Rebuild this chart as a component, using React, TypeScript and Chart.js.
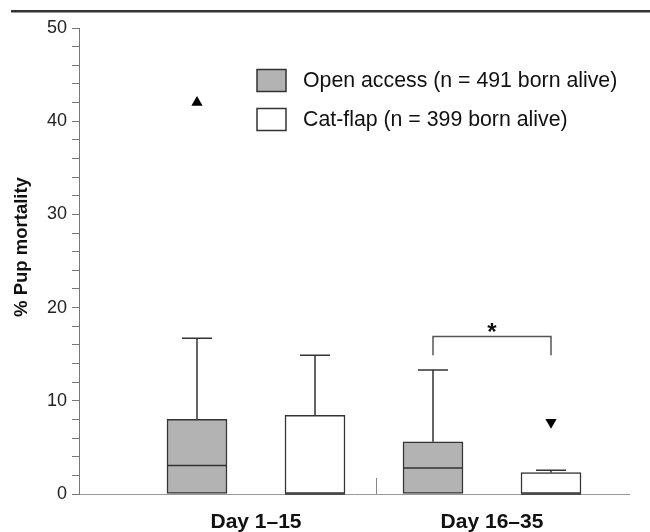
import React, { useEffect, useRef } from "react";
import { Chart, registerables } from "chart.js";

Chart.register(...registerables);

// ---------------- data ----------------
const categories = ["Day 1–15", "Day 16–35"];
const seriesNames = ["Open access (n = 491 born alive)", "Cat-flap (n = 399 born alive)"];

const openMin = [0, 0];
const openQ1 = [0, 0];
const openMedian = [3.05, 2.8];
const openQ3 = [8.0, 5.6];
const openMax = [16.7, 13.3];
const openOutliers = [42.0, null];

const catMin = [0, 0];
const catQ1 = [0, 0];
const catMedian = [0, 0];
const catQ3 = [8.45, 2.3];
const catMax = [14.9, 2.55];
const catOutliers = [null, 7.7];

const yTickLabels = [0, 10, 20, 30, 40, 50];
const yTitle = "% Pup mortality";

const sigCategory = 1; // index into categories
const sigLevel = 16.9;
const sigLegBottom = 14.9;
const sigLabel = "*";

// ---------------- styles ----------------
const FONT = "'Liberation Sans', Arial, Helvetica, sans-serif";
const INK = "#333333";
const GREY = "#b3b3b3";

const series = [
  { name: seriesNames[0], min: openMin, q1: openQ1, median: openMedian, q3: openQ3, max: openMax, outliers: openOutliers, fill: GREY, offset: -0.25, rotation: 0 },
  { name: seriesNames[1], min: catMin, q1: catQ1, median: catMedian, q3: catQ3, max: catMax, outliers: catOutliers, fill: "#ffffff", offset: 0.25, rotation: 180 },
];

const BOX_W = 60;
const CAP_HALF = 15;

const decorPlugin = {
  id: "decor",
  afterDatasetsDraw(chart: any) {
    const { ctx, scales } = chart;
    const x = scales.x;
    const y = scales.y;
    ctx.save();
    ctx.strokeStyle = INK;
    ctx.lineWidth = 1.5;
    ctx.lineCap = "butt";
    series.forEach((s) => {
      categories.forEach((_, i) => {
        const cx = x.getPixelForValue(i + 1 + s.offset);
        const yq3 = y.getPixelForValue(s.q3[i]);
        const ymax = y.getPixelForValue(s.max[i]);
        if (s.max[i] > s.q3[i]) {
          ctx.beginPath();
          ctx.moveTo(cx, yq3);
          ctx.lineTo(cx, ymax);
          ctx.moveTo(cx - CAP_HALF, ymax);
          ctx.lineTo(cx + CAP_HALF, ymax);
          ctx.stroke();
        }
        const yq1 = y.getPixelForValue(s.q1[i]);
        const ymin = y.getPixelForValue(s.min[i]);
        if (s.min[i] < s.q1[i]) {
          ctx.beginPath();
          ctx.moveTo(cx, yq1);
          ctx.lineTo(cx, ymin);
          ctx.moveTo(cx - CAP_HALF, ymin);
          ctx.lineTo(cx + CAP_HALF, ymin);
          ctx.stroke();
        }
        const ymed = y.getPixelForValue(s.median[i]);
        ctx.beginPath();
        ctx.moveTo(cx - BOX_W / 2, ymed);
        ctx.lineTo(cx + BOX_W / 2, ymed);
        ctx.stroke();
      });
    });

    // category divider tick on x axis
    const dx = x.getPixelForValue(1.51);
    ctx.strokeStyle = "#888";
    ctx.lineWidth = 1;
    ctx.beginPath();
    ctx.moveTo(Math.round(dx) + 0.5, y.getPixelForValue(0));
    ctx.lineTo(Math.round(dx) + 0.5, y.getPixelForValue(0) - 16);
    ctx.stroke();

    // significance bracket
    const bx1 = x.getPixelForValue(sigCategory + 1 + series[0].offset);
    const bx2 = x.getPixelForValue(sigCategory + 1 + series[1].offset);
    const by = y.getPixelForValue(sigLevel);
    const byb = y.getPixelForValue(sigLegBottom);
    ctx.strokeStyle = "#555";
    ctx.lineWidth = 1.5;
    ctx.beginPath();
    ctx.moveTo(bx1, byb);
    ctx.lineTo(bx1, by);
    ctx.lineTo(bx2, by);
    ctx.lineTo(bx2, byb);
    ctx.stroke();
    ctx.fillStyle = "#111";
    ctx.font = `bold 24px ${FONT}`;
    ctx.textAlign = "center";
    ctx.textBaseline = "alphabetic";
    ctx.fillText(sigLabel, (bx1 + bx2) / 2, by + 4);
    ctx.restore();
  },
  afterDraw(chart: any) {
    const { ctx } = chart;
    ctx.save();
    ctx.fillStyle = INK;
    ctx.fillRect(11, 10, 639, 2.5);

    ctx.save();
    ctx.translate(22, 247);
    ctx.rotate(-Math.PI / 2);
    ctx.fillStyle = "#111";
    ctx.font = `bold 18.5px ${FONT}`;
    ctx.textAlign = "center";
    ctx.textBaseline = "middle";
    ctx.fillText(yTitle, 0, 0);
    ctx.restore();

    const lx = 257;
    const rows = [69.5, 108.5];
    series.forEach((s, k) => {
      const top = rows[k];
      ctx.fillStyle = s.fill;
      ctx.fillRect(lx, top, 29, 22);
      ctx.strokeStyle = INK;
      ctx.lineWidth = 1.5;
      ctx.strokeRect(lx, top, 29, 22);
      ctx.fillStyle = "#111";
      ctx.font = `21.3px ${FONT}`;
      ctx.textAlign = "left";
      ctx.textBaseline = "middle";
      ctx.fillText(s.name, 303, top + 12);
    });
    ctx.restore();
  },
};

export default function App() {
  const canvasRef = useRef<HTMLCanvasElement | null>(null);

  useEffect(() => {
    const canvas = canvasRef.current;
    if (!canvas) return;

    const datasets: any[] = [];
    series.forEach((s) => {
      datasets.push({
        type: "bar",
        label: s.name,
        data: categories.map((_, i) => ({ x: i + 1 + s.offset, y: [s.q1[i], s.q3[i]] })),
        backgroundColor: s.fill,
        borderColor: INK,
        borderWidth: 1.5,
        borderSkipped: false,
        barThickness: BOX_W,
        grouped: false,
        order: 2,
      });
    });
    series.forEach((s) => {
      const pts: any[] = [];
      s.outliers.forEach((v, i) => {
        if (v !== null) pts.push({ x: i + 1 + s.offset, y: v });
      });
      datasets.push({
        type: "scatter",
        label: s.name + " outliers",
        data: pts,
        pointStyle: "triangle",
        rotation: s.rotation,
        pointRadius: 6.5,
        backgroundColor: "#000",
        borderColor: "#000",
        borderWidth: 0,
        order: 1,
      });
    });

    const chart = new Chart(canvas, {
      type: "bar",
      data: { datasets },
      options: {
        responsive: false,
        animation: false,
        layout: { padding: { top: 28, right: 21, bottom: 0, left: 0 } },
        plugins: { legend: { display: false }, tooltip: { enabled: false } },
        scales: {
          x: {
            type: "linear",
            offset: false,
            min: 0.25,
            max: 2.5805,
            afterBuildTicks: (s: any) => {
              s.ticks = categories.map((_, i) => ({ value: i + 1 }));
            },
            ticks: {
              autoSkip: false,
              maxRotation: 0,
              padding: 8,
              color: "#111",
              font: { family: FONT, size: 21, weight: "bold" },
              callback: (v: any) => categories[Math.round(Number(v)) - 1] ?? "",
            },
            grid: { display: false },
            border: { display: true, color: "#999", width: 1 },
            afterFit: (s: any) => {
              s.height = 38;
            },
          },
          y: {
            type: "linear",
            min: 0,
            max: 50,
            ticks: {
              stepSize: 2,
              autoSkip: false,
              padding: 5,
              color: "#222",
              font: { family: FONT, size: 18 },
              callback: (v: any) => (yTickLabels.includes(Number(v)) ? String(v) : ""),
            },
            grid: { drawOnChartArea: false, tickLength: 7, color: "#777", lineWidth: 1 },
            border: { display: true, color: "#777", width: 1 },
            afterFit: (s: any) => {
              s.width = 79;
            },
          },
        },
      },
      plugins: [decorPlugin],
    } as any);

    return () => chart.destroy();
  }, []);

  return (
    <div style={{ position: "fixed", left: 0, top: 0, width: 650, height: 532, background: "#fff" }}>
      <canvas ref={canvasRef} width={650} height={532} style={{ display: "block" }} />
    </div>
  );
}
